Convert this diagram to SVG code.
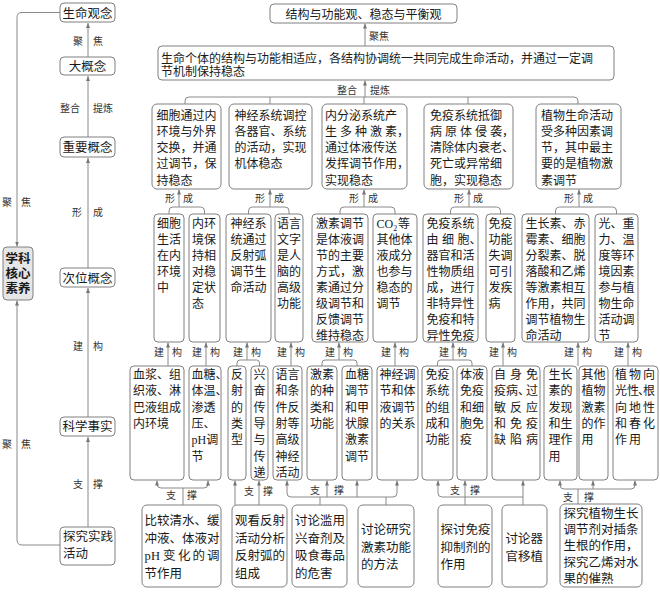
<svg xmlns="http://www.w3.org/2000/svg" width="660" height="592" viewBox="0 0 660 592">
<style>
.bx{fill:#fff;stroke:#808080;stroke-width:1}
.t{font-family:"Liberation Serif","Noto Sans CJK SC",serif;font-size:12px;fill:#1a1a1a}
.t5{font-size:12.5px}
.m{text-anchor:middle}
.l{font-family:"Noto Sans CJK SC",sans-serif;font-size:10px;fill:#333;text-anchor:middle}
.c{fill:none;stroke:#8a8a8a;stroke-width:1}
.a{marker-end:url(#ar)}
</style>
<defs>
<marker id="ar" viewBox="0 0 6 6" refX="6" refY="3" markerWidth="5" markerHeight="5" orient="auto" markerUnits="userSpaceOnUse"><path d="M0,0.6 L6,3 L0,5.4z" fill="#777"/></marker>
</defs>
<rect width="660" height="592" fill="#fff"/>

<g id="connectors">
<path class="c a" d="M88,268 V158"/>
<path class="c a" d="M88,137 V76"/>
<path class="c a" d="M88,57 V23"/>
<path class="c a" d="M88,417 V288"/>
<path class="c a" d="M88,527 V437"/>
<path class="c a" d="M60,12.5 H22 Q17,12.5 17,17.5 V246.5"/>
<path class="c a" d="M60,545 H22 Q17,545 17,540 V300.5"/>
<path class="c a" d="M365,46 V23.5"/>
<path class="c a" d="M365,97 V80.5"/>
<path class="c" d="M185,104 V101 Q185,97 189,97 H574 Q578,97 578,101 V104"/>
<path class="c" d="M270,97 V104 M364,97 V104 M468,97 V104"/>
<path class="c a" d="M179,207 V189.5"/>
<path class="c" d="M169,214 V211 Q169,207 173,207 H200.5 Q204.5,207 204.5,211 V214"/>
<path class="c a" d="M270,207 V189.5"/>
<path class="c" d="M248.5,214 V211 Q248.5,207 252.5,207 H285 Q289,207 289,211 V214"/>
<path class="c a" d="M364,207 V189.5"/>
<path class="c" d="M340,214 V211 Q340,207 344,207 H391 Q395,207 395,211 V214"/>
<path class="c a" d="M469,207 V189.5"/>
<path class="c" d="M450.5,214 V211 Q450.5,207 454.5,207 H496.5 Q500.5,207 500.5,211 V214"/>
<path class="c a" d="M579,207 V189.5"/>
<path class="c" d="M555.5,214 V211 Q555.5,207 559.5,207 H612.5 Q616.5,207 616.5,211 V214"/>
<path class="c a" d="M168,366 V342.5"/>
<path class="c a" d="M206,366 V342.5"/>
<path class="c a" d="M291,366 V342.5"/>
<path class="c a" d="M395,366 V342.5"/>
<path class="c a" d="M503,366 V342.5"/>
<path class="c a" d="M578,366 V342.5"/>
<path class="c a" d="M628,366 V342.5"/>
<path class="c a" d="M247,360 V342.5"/>
<path class="c" d="M237,366 V363 Q237,360 240,360 H256.5 Q259.5,360 259.5,363 V366"/>
<path class="c a" d="M339,360 V342.5"/>
<path class="c" d="M322,366 V363 Q322,360 325,360 H354 Q357,360 357,363 V366"/>
<path class="c a" d="M453,360 V342.5"/>
<path class="c" d="M437.5,366 V363 Q437.5,360 440.5,360 H469 Q472,360 472,363 V366"/>
<path class="c a" d="M183,488 H161 Q157,488 157,484 V480.5"/>
<path class="c a" d="M183,488 H204 Q208,488 208,484 V480.5"/>
<path class="c" d="M183,488 V505"/>
<path class="c a" d="M235,505 V480.5"/>
<path class="c a" d="M259,505 V480.5"/>
<path class="c a" d="M320,497 H291 Q287,497 287,493 V480.5"/>
<path class="c a" d="M320,497 H393 Q397,497 397,493 V480.5"/>
<path class="c a" d="M327,497 V480.5"/>
<path class="c a" d="M357,497 V480.5"/>
<path class="c" d="M320,497 V505 M386,497 V505"/>
<path class="c a" d="M465,497 H442 Q438,497 438,493 V480.5"/>
<path class="c a" d="M465,505 V480.5"/>
<path class="c" d="M465,497 H523"/>
<path class="c a" d="M523,505 V480.5"/>
<path class="c a" d="M578,489 H564 Q560,489 560,485 V480.5"/>
<path class="c a" d="M578,489 H631 Q635,489 635,485 V480.5"/>
<path class="c a" d="M593,489 V480.5"/>
<path class="c" d="M578,489 V504"/>
</g>

<g id="labels">
<text class="l" x="78" y="45">聚</text><text class="l" x="98" y="45">焦</text>
<text class="l" x="70" y="112">整合</text><text class="l" x="103" y="112">提炼</text>
<text class="l" x="77" y="216">形</text><text class="l" x="98" y="216">成</text>
<text class="l" x="78" y="350">建</text><text class="l" x="98" y="350">构</text>
<text class="l" x="78" y="488">支</text><text class="l" x="98" y="488">撑</text>
<text class="l" x="7" y="206">聚</text><text class="l" x="26" y="206">焦</text>
<text class="l" x="7" y="448">聚</text><text class="l" x="26" y="448">焦</text>
<text class="l" x="379" y="40">聚焦</text>
<text class="l" x="347" y="94">整合</text><text class="l" x="380" y="94">提炼</text>
<text class="l" x="170" y="202">形</text><text class="l" x="188" y="202">成</text>
<text class="l" x="260" y="202">形</text><text class="l" x="279" y="202">成</text>
<text class="l" x="354" y="202">形</text><text class="l" x="373" y="202">成</text>
<text class="l" x="459" y="202">形</text><text class="l" x="478" y="202">成</text>
<text class="l" x="569" y="202">形</text><text class="l" x="588" y="202">成</text>
<text class="l" x="159" y="356">建</text><text class="l" x="177" y="356">构</text>
<text class="l" x="197" y="356">建</text><text class="l" x="215" y="356">构</text>
<text class="l" x="238" y="356">建</text><text class="l" x="256" y="356">构</text>
<text class="l" x="282" y="356">建</text><text class="l" x="300" y="356">构</text>
<text class="l" x="330" y="356">建</text><text class="l" x="348" y="356">构</text>
<text class="l" x="386" y="356">建</text><text class="l" x="404" y="356">构</text>
<text class="l" x="444" y="356">建</text><text class="l" x="462" y="356">构</text>
<text class="l" x="494" y="356">建</text><text class="l" x="512" y="356">构</text>
<text class="l" x="569" y="356">建</text><text class="l" x="587" y="356">构</text>
<text class="l" x="619" y="356">建</text><text class="l" x="637" y="356">构</text>
<text class="l" x="171" y="499">支</text><text class="l" x="192" y="499">撑</text>
<text class="l" x="249" y="495">支</text><text class="l" x="268" y="495">撑</text>
<text class="l" x="315" y="494">支</text><text class="l" x="339" y="494">撑</text>
<text class="l" x="455" y="494">支</text><text class="l" x="475" y="494">撑</text>
<text class="l" x="568" y="501">支</text><text class="l" x="589" y="501">撑</text>
</g>

<g id="n-smgn"><rect class="bx" x="60" y="3" width="55" height="19" rx="4"/><text class="t t5 m" x="87.5" y="18">生命观念</text></g>
<g id="n-dgn"><rect class="bx" x="60" y="57" width="55" height="18" rx="4"/><text class="t t5 m" x="87.5" y="70.5">大概念</text></g>
<g id="n-zygn"><rect class="bx" x="60" y="137" width="55" height="20" rx="4"/><text class="t t5 m" x="87.5" y="152">重要概念</text></g>
<g id="n-cwgn"><rect class="bx" x="60" y="268" width="55" height="19" rx="4"/><text class="t t5 m" x="87.5" y="282.5">次位概念</text></g>
<g id="n-kxss"><rect class="bx" x="60" y="417" width="55" height="19" rx="4"/><text class="t t5 m" x="87.5" y="430.5">科学事实</text></g>
<g id="n-tjsj"><rect class="bx" x="60" y="527" width="55" height="38" rx="4"/><text class="t t5" x="63" y="541">探究实践<tspan x="63" dy="17">活动</tspan></text></g>
<g id="n-xkhx"><rect x="3" y="247" width="30" height="53" rx="4" fill="#e6e6e6" stroke="#808080"/><text class="t t5 m" x="18" y="263" font-weight="bold">学科<tspan x="18" dy="15">核心</tspan><tspan x="18" dy="15">素养</tspan></text></g>

<g id="n-top"><rect class="bx" x="270" y="4" width="187" height="19" rx="4"/><text class="t m" x="363.5" y="18.5">结构与功能观、稳态与平衡观</text></g>
<g id="n-big"><rect class="bx" x="158" y="46" width="456" height="34" rx="4"/><text class="t" x="161" y="62.5" font-size="12.4">生命个体的结构与功能相适应，各结构协调统一共同完成生命活动，并通过一定调<tspan x="161" dy="13.5">节机制保持稳态</tspan></text></g>

<g id="r2a"><rect class="bx" x="152" y="104" width="69" height="85" rx="5"/><text class="t" x="156.5" y="119.5">细胞通过内<tspan x="156.5" dy="16.25">环境与外界</tspan><tspan x="156.5" dy="16.25">交换，并通</tspan><tspan x="156.5" dy="16.25">过调节，保</tspan><tspan x="156.5" dy="16.25">持稳态</tspan></text></g>
<g id="r2b"><rect class="bx" x="229" y="104" width="83" height="85" rx="5"/><text class="t" x="234.5" y="119.5">神经系统调控<tspan x="234.5" dy="16.25">各器官、系统</tspan><tspan x="234.5" dy="16.25">的活动，实现</tspan><tspan x="234.5" dy="16.25">机体稳态</tspan></text></g>
<g id="r2c"><rect class="bx" x="322" y="104" width="85" height="85" rx="5"/><text class="t" x="325" y="119.5">内分泌系统产<tspan x="325 340 355 370 385 397" dy="16.25">生多种激素，</tspan><tspan x="325" dy="16.25">通过体液传送</tspan><tspan x="325" dy="16.25">发挥调节作用，</tspan><tspan x="325" dy="16.25">实现稳态</tspan></text></g>
<g id="r2d"><rect class="bx" x="424" y="104" width="89" height="85" rx="5"/><text class="t" x="430" y="119.5">免疫系统抵御<tspan x="430 445 460 475 490 502" dy="16.25">病原体侵袭，</tspan><tspan x="430" dy="16.25">清除体内衰老、</tspan><tspan x="430" dy="16.25">死亡或异常细</tspan><tspan x="430" dy="16.25">胞，实现稳态</tspan></text></g>
<g id="r2e"><rect class="bx" x="536" y="104" width="85" height="85" rx="5"/><text class="t" x="541" y="119.5">植物生命活动<tspan x="541" dy="16.25">受多种因素调</tspan><tspan x="541" dy="16.25">节，其中最主</tspan><tspan x="541" dy="16.25">要的是植物激</tspan><tspan x="541" dy="16.25">素调节</tspan></text></g>

<g id="r3-1"><rect class="bx" x="154" y="214" width="30" height="128" rx="4"/><text class="t" x="157" y="227.5">细胞<tspan x="157" dy="16">生活</tspan><tspan x="157" dy="16">在内</tspan><tspan x="157" dy="16">环境</tspan><tspan x="157" dy="16">中</tspan></text></g>
<g id="r3-2"><rect class="bx" x="189" y="214" width="31" height="128" rx="4"/><text class="t" x="192" y="227.5">内环<tspan x="192" dy="16">境保</tspan><tspan x="192" dy="16">持相</tspan><tspan x="192" dy="16">对稳</tspan><tspan x="192" dy="16">定状</tspan><tspan x="192" dy="16">态</tspan></text></g>
<g id="r3-3"><rect class="bx" x="226" y="214" width="45" height="128" rx="4"/><text class="t" x="230.5" y="227.5">神经系<tspan x="230.5" dy="16">统通过</tspan><tspan x="230.5" dy="16">反射弧</tspan><tspan x="230.5" dy="16">调节生</tspan><tspan x="230.5" dy="16">命活动</tspan></text></g>
<g id="r3-4"><rect class="bx" x="275" y="214" width="28" height="128" rx="4"/><text class="t" x="277" y="227.5">语言<tspan x="277" dy="16">文字</tspan><tspan x="277" dy="16">是人</tspan><tspan x="277" dy="16">脑的</tspan><tspan x="277" dy="16">高级</tspan><tspan x="277" dy="16">功能</tspan></text></g>
<g id="r3-5"><rect class="bx" x="312" y="214" width="56" height="128" rx="4"/><text class="t" x="316" y="227.5">激素调节<tspan x="316" dy="16">是体液调</tspan><tspan x="316" dy="16">节的主要</tspan><tspan x="316" dy="16">方式，激</tspan><tspan x="316" dy="16">素通过分</tspan><tspan x="316" dy="16">级调节和</tspan><tspan x="316" dy="16">反馈调节</tspan><tspan x="316" dy="16">维持稳态</tspan></text></g>
<g id="r3-6"><rect class="bx" x="373" y="214" width="44" height="128" rx="4"/><text class="t" x="376.5" y="227.5">CO<tspan font-size="8" dy="3">2</tspan><tspan x="398" dy="-3">等</tspan><tspan x="376.5" dy="16">其他体</tspan><tspan x="376.5" dy="16">液成分</tspan><tspan x="376.5" dy="16">也参与</tspan><tspan x="376.5" dy="16">稳态的</tspan><tspan x="376.5" dy="16">调节</tspan></text></g>
<g id="r3-7"><rect class="bx" x="423" y="214" width="55" height="128" rx="4"/><text class="t" x="426.5" y="227.5">免疫系统<tspan x="426.5 442 457.5 469.5" dy="16">由细胞、</tspan><tspan x="426.5" dy="16">器官和活</tspan><tspan x="426.5" dy="16">性物质组</tspan><tspan x="426.5" dy="16">成，进行</tspan><tspan x="426.5" dy="16">非特异性</tspan><tspan x="426.5" dy="16">免疫和特</tspan><tspan x="426.5" dy="16">异性免疫</tspan></text></g>
<g id="r3-8"><rect class="bx" x="486" y="214" width="29" height="128" rx="4"/><text class="t" x="488.5" y="227.5">免疫<tspan x="488.5" dy="16">功能</tspan><tspan x="488.5" dy="16">失调</tspan><tspan x="488.5" dy="16">可引</tspan><tspan x="488.5" dy="16">发疾</tspan><tspan x="488.5" dy="16">病</tspan></text></g>
<g id="r3-9"><rect class="bx" x="522" y="214" width="67" height="128" rx="4"/><text class="t" x="525.5" y="227.5">生长素、赤<tspan x="525.5" dy="16">霉素、细胞</tspan><tspan x="525.5" dy="16">分裂素、脱</tspan><tspan x="525.5" dy="16">落酸和乙烯</tspan><tspan x="525.5" dy="16">等激素相互</tspan><tspan x="525.5" dy="16">作用，共同</tspan><tspan x="525.5" dy="16">调节植物生</tspan><tspan x="525.5" dy="16">命活动</tspan></text></g>
<g id="r3-10"><rect class="bx" x="595" y="214" width="43" height="128" rx="4"/><text class="t" x="598.5" y="227.5">光、重<tspan x="598.5" dy="16">力、温</tspan><tspan x="598.5" dy="16">度等环</tspan><tspan x="598.5" dy="16">境因素</tspan><tspan x="598.5" dy="16">参与植</tspan><tspan x="598.5" dy="16">物生命</tspan><tspan x="598.5" dy="16">活动调</tspan><tspan x="598.5" dy="16">节</tspan></text></g>

<g id="r4-1"><rect class="bx" x="130" y="366" width="54" height="114" rx="4"/><text class="t" x="133" y="379">血浆、组<tspan x="133" dy="16.3">织液、淋</tspan><tspan x="133" dy="16.3">巴液组成</tspan><tspan x="133" dy="16.3">内环境</tspan></text></g>
<g id="r4-2"><rect class="bx" x="189" y="366" width="32" height="114" rx="4"/><text class="t" x="191.5" y="379">血糖、<tspan x="191.5" dy="16.3">体温、</tspan><tspan x="191.5" dy="16.3">渗透</tspan><tspan x="191.5" dy="16.3">压、</tspan><tspan x="191.5" dy="16.3">pH调</tspan><tspan x="191.5" dy="16.3">节</tspan></text></g>
<g id="r4-3"><rect class="bx" x="228" y="366" width="18" height="114" rx="4"/><text class="t" x="231" y="379">反<tspan x="231" dy="16.3">射</tspan><tspan x="231" dy="16.3">的</tspan><tspan x="231" dy="16.3">类</tspan><tspan x="231" dy="16.3">型</tspan></text></g>
<g id="r4-4"><rect class="bx" x="251" y="366" width="17" height="114" rx="4"/><text class="t" x="253.5" y="379">兴<tspan x="253.5" dy="16.3">奋</tspan><tspan x="253.5" dy="16.3">传</tspan><tspan x="253.5" dy="16.3">导</tspan><tspan x="253.5" dy="16.3">与</tspan><tspan x="253.5" dy="16.3">传</tspan><tspan x="253.5" dy="16.3">递</tspan></text></g>
<g id="r4-5"><rect class="bx" x="273" y="366" width="29" height="114" rx="4"/><text class="t" x="275.5" y="379">语言<tspan x="275.5" dy="16.3">和条</tspan><tspan x="275.5" dy="16.3">件反</tspan><tspan x="275.5" dy="16.3">射等</tspan><tspan x="275.5" dy="16.3">高级</tspan><tspan x="275.5" dy="16.3">神经</tspan><tspan x="275.5" dy="16.3">活动</tspan></text></g>
<g id="r4-6"><rect class="bx" x="307" y="366" width="30" height="114" rx="4"/><text class="t" x="310" y="379">激素<tspan x="310" dy="16.3">的种</tspan><tspan x="310" dy="16.3">类和</tspan><tspan x="310" dy="16.3">功能</tspan></text></g>
<g id="r4-7"><rect class="bx" x="342" y="366" width="30" height="114" rx="4"/><text class="t" x="345" y="379">血糖<tspan x="345" dy="16.3">调节</tspan><tspan x="345" dy="16.3">和甲</tspan><tspan x="345" dy="16.3">状腺</tspan><tspan x="345" dy="16.3">激素</tspan><tspan x="345" dy="16.3">调节</tspan></text></g>
<g id="r4-8"><rect class="bx" x="377" y="366" width="41" height="114" rx="4"/><text class="t" x="379.5" y="379">神经调<tspan x="379.5" dy="16.3">节和体</tspan><tspan x="379.5" dy="16.3">液调节</tspan><tspan x="379.5" dy="16.3">的关系</tspan></text></g>
<g id="r4-9"><rect class="bx" x="422" y="366" width="31" height="114" rx="4"/><text class="t" x="425.5" y="379">免疫<tspan x="425.5" dy="16.3">系统</tspan><tspan x="425.5" dy="16.3">的组</tspan><tspan x="425.5" dy="16.3">成和</tspan><tspan x="425.5" dy="16.3">功能</tspan></text></g>
<g id="r4-10"><rect class="bx" x="457" y="366" width="30" height="114" rx="4"/><text class="t" x="460" y="379">体液<tspan x="460" dy="16.3">免疫</tspan><tspan x="460" dy="16.3">和细</tspan><tspan x="460" dy="16.3">胞免</tspan><tspan x="460" dy="16.3">疫</tspan></text></g>
<g id="r4-11"><rect class="bx" x="492" y="366" width="48" height="114" rx="4"/><text class="t" x="494 510 526" y="379">自身免<tspan x="494 506 518 526" dy="16.3">疫病、过</tspan><tspan x="494 510 526" dy="16.3">敏反应</tspan><tspan x="494 510 526" dy="16.3">和免疫</tspan><tspan x="494 510 526" dy="16.3">缺陷病</tspan></text></g>
<g id="r4-12"><rect class="bx" x="544" y="366" width="33" height="114" rx="4"/><text class="t" x="548.5" y="379">生长<tspan x="548.5" dy="16.3">素的</tspan><tspan x="548.5" dy="16.3">发现</tspan><tspan x="548.5" dy="16.3">和生</tspan><tspan x="548.5" dy="16.3">理作</tspan><tspan x="548.5" dy="16.3">用</tspan></text></g>
<g id="r4-13"><rect class="bx" x="579" y="366" width="29" height="114" rx="4"/><text class="t" x="581.5" y="379">其他<tspan x="581.5" dy="16.3">植物</tspan><tspan x="581.5" dy="16.3">激素</tspan><tspan x="581.5" dy="16.3">的作</tspan><tspan x="581.5" dy="16.3">用</tspan></text></g>
<g id="r4-14"><rect class="bx" x="613" y="366" width="45" height="114" rx="4"/><text class="t" x="615 629 643" y="379">植物向<tspan x="615 627 638 643" dy="16.3">光性、根</tspan><tspan x="615 629 643" dy="16.3">向地性</tspan><tspan x="615 629 643" dy="16.3">和春化</tspan><tspan x="615 629" dy="16.3">作用</tspan></text></g>

<g id="r5-1"><rect class="bx" x="142" y="505" width="79" height="82" rx="5"/><text class="t t5" x="144.5" y="525">比较清水、缓<tspan x="144.5" dy="17.5">冲液、体液对</tspan><tspan x="144.5 151 163 178 192.5 207" dy="17.5">pH变化的调</tspan><tspan x="144.5" dy="17.5">节作用</tspan></text></g>
<g id="r5-2"><rect class="bx" x="232" y="505" width="55" height="82" rx="5"/><text class="t t5" x="235" y="525">观看反射<tspan x="235" dy="17.5">活动分析</tspan><tspan x="235" dy="17.5">反射弧的</tspan><tspan x="235" dy="17.5">组成</tspan></text></g>
<g id="r5-3"><rect class="bx" x="292" y="505" width="55" height="82" rx="5"/><text class="t t5" x="295" y="525">讨论滥用<tspan x="295" dy="17.5">兴奋剂及</tspan><tspan x="295" dy="17.5">吸食毒品</tspan><tspan x="295" dy="17.5">的危害</tspan></text></g>
<g id="r5-4"><rect class="bx" x="358" y="505" width="56" height="82" rx="5"/><text class="t t5" x="361" y="534">讨论研究<tspan x="361" dy="17.5">激素功能</tspan><tspan x="361" dy="17.5">的方法</tspan></text></g>
<g id="r5-5"><rect class="bx" x="438" y="505" width="54" height="82" rx="5"/><text class="t t5" x="440.5" y="534">探讨免疫<tspan x="440.5" dy="17.5">抑制剂的</tspan><tspan x="440.5" dy="17.5">作用</tspan></text></g>
<g id="r5-6"><rect class="bx" x="502" y="505" width="45" height="82" rx="5"/><text class="t t5" x="505.5" y="543">讨论器<tspan x="505.5" dy="17.5">官移植</tspan></text></g>
<g id="r5-7"><rect class="bx" x="560" y="504" width="82" height="83" rx="5"/><text class="t t5" x="563.5" y="517.5">探究植物生长<tspan x="563.5" dy="16.4">调节剂对插条</tspan><tspan x="563.5" dy="16.4">生根的作用，</tspan><tspan x="563.5" dy="16.4">探究乙烯对水</tspan><tspan x="563.5" dy="16.4">果的催熟</tspan></text></g>
</svg>
